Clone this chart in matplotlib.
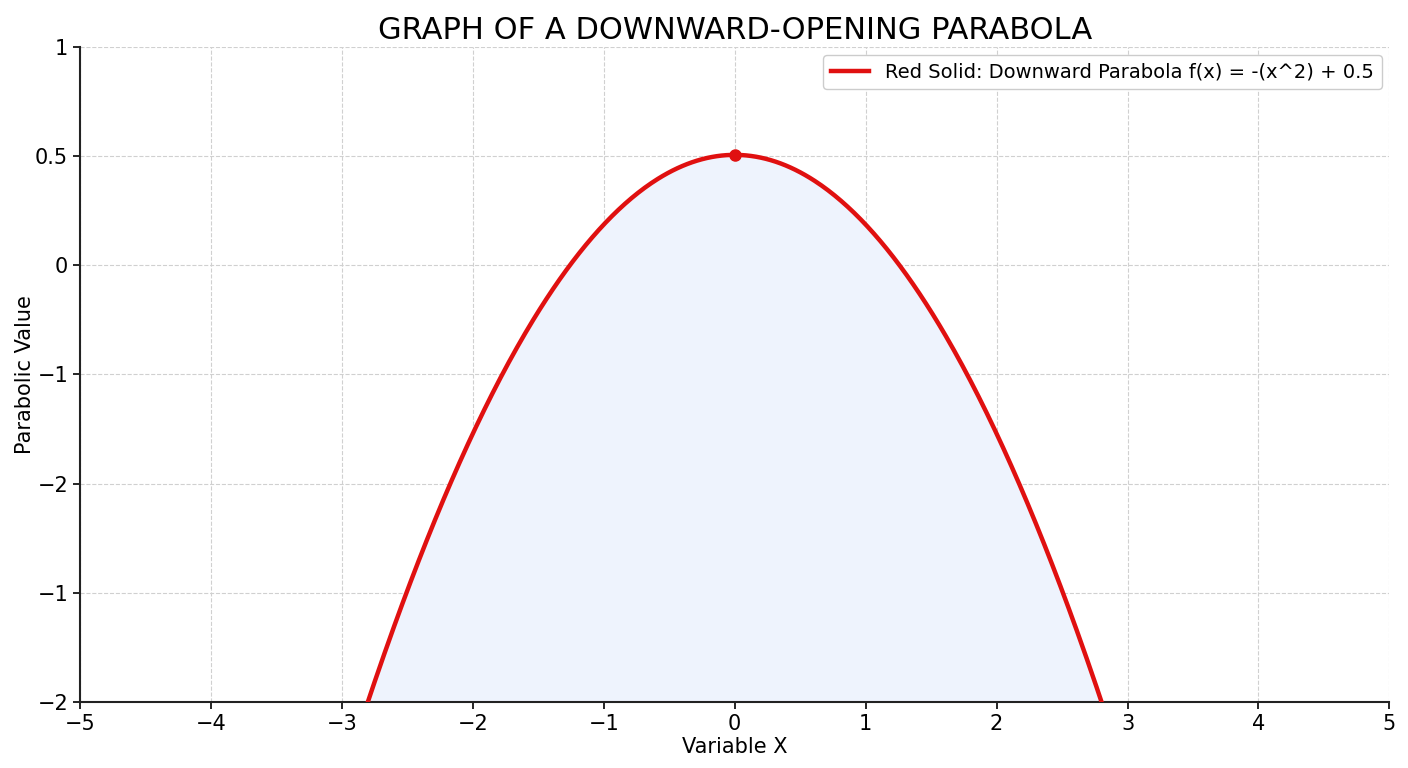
import numpy as np
import matplotlib
matplotlib.use("Agg")
import matplotlib.pyplot as plt

# curve f(x) = -(x^2) + 0.5 sampled over the visible x range
x = np.linspace(-5, 5, 801)
y = -(x ** 2) + 0.5
vertex_x, vertex_y = 0.0, 0.5

x_ticks = [-5, -4, -3, -2, -1, 0, 1, 2, 3, 4, 5]
y_tick_pos = np.linspace(2.05, -7.35, 7)
y_tick_labels = ["1", "0.5", "0", "\u22121", "\u22122", "\u22121", "\u22122"]

fig = plt.figure(figsize=(14.08, 7.68), dpi=100)
ax = fig.add_axes([0.0568, 0.086, 0.930, 0.853])

ymin, ymax = y_tick_pos[-1], y_tick_pos[0]
ax.fill_between(x, y, ymin, color="#eef3fd", zorder=1)
ax.plot(x, y, color="#e01010", lw=3.2, zorder=3,
        label="Red Solid: Downward Parabola f(x) = -(x^2) + 0.5")
ax.plot([vertex_x], [vertex_y], "o", color="#e01010", ms=8, zorder=4)

ax.set_xlim(-5, 5)
ax.set_ylim(ymin, ymax)
ax.set_xticks(x_ticks)
ax.set_yticks(y_tick_pos)
ax.set_yticklabels(y_tick_labels)

ax.grid(True, ls="--", color="#d0d0d0", lw=0.8, zorder=0)
ax.set_axisbelow(True)
for s in ["top", "right"]:
    ax.spines[s].set_visible(False)
for s in ["left", "bottom"]:
    ax.spines[s].set_linewidth(1.5)
    ax.spines[s].set_color("#222222")
ax.tick_params(labelsize=15, length=5, width=1.2, direction="out")

ax.set_title("GRAPH OF A DOWNWARD-OPENING PARABOLA", fontsize=22, pad=6)
ax.set_xlabel("Variable X", fontsize=15, labelpad=2)
ax.set_ylabel("Parabolic Value", fontsize=15, labelpad=0)
ax.legend(loc="upper right", fontsize=14, frameon=True, framealpha=1,
          edgecolor="#cccccc", handlelength=2.0, borderaxespad=0.4)

fig.savefig("out.png", dpi=100)
